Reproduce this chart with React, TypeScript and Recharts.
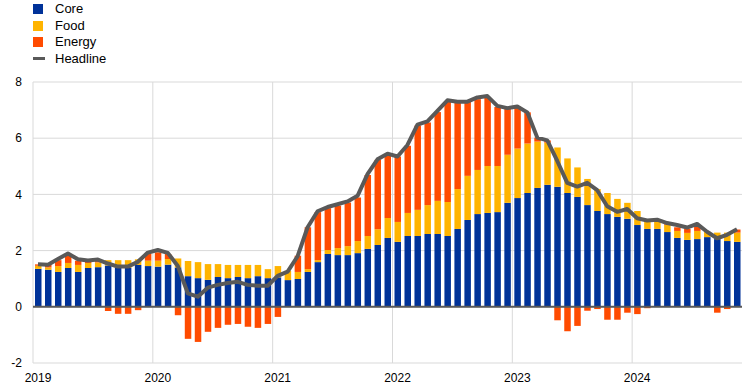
import React from 'react';
import {
  ComposedChart,
  Bar,
  Line,
  XAxis,
  YAxis,
  CartesianGrid,
  ReferenceLine,
  Legend,
} from 'recharts';

const MONTHS: string[] = [
  '2019-01', '2019-02', '2019-03', '2019-04', '2019-05', '2019-06', '2019-07', '2019-08', '2019-09', '2019-10', '2019-11', '2019-12',
  '2020-01', '2020-02', '2020-03', '2020-04', '2020-05', '2020-06', '2020-07', '2020-08', '2020-09', '2020-10', '2020-11', '2020-12',
  '2021-01', '2021-02', '2021-03', '2021-04', '2021-05', '2021-06', '2021-07', '2021-08', '2021-09', '2021-10', '2021-11', '2021-12',
  '2022-01', '2022-02', '2022-03', '2022-04', '2022-05', '2022-06', '2022-07', '2022-08', '2022-09', '2022-10', '2022-11', '2022-12',
  '2023-01', '2023-02', '2023-03', '2023-04', '2023-05', '2023-06', '2023-07', '2023-08', '2023-09', '2023-10', '2023-11', '2023-12',
  '2024-01', '2024-02', '2024-03', '2024-04', '2024-05', '2024-06', '2024-07', '2024-08', '2024-09', '2024-10', '2024-11',
];

const CORE: number[] = [
  1.35, 1.32, 1.24, 1.38, 1.24, 1.38, 1.41, 1.47, 1.38, 1.38, 1.49, 1.45,
  1.43, 1.50, 1.40, 1.09, 1.02, 0.96, 1.06, 1.02, 1.06, 1.02, 1.09, 1.02,
  1.05, 0.95, 0.99, 1.24, 1.59, 1.88, 1.84, 1.84, 1.91, 2.06, 2.20, 2.45,
  2.31, 2.52, 2.52, 2.59, 2.59, 2.52, 2.77, 3.09, 3.30, 3.34, 3.37, 3.70,
  3.87, 4.05, 4.23, 4.34, 4.27, 4.05, 3.91, 3.62, 3.41, 3.30, 3.20, 3.13,
  2.91, 2.77, 2.77, 2.66, 2.45, 2.38, 2.41, 2.48, 2.41, 2.34, 2.31,
];

const FOOD: number[] = [
  0.11, 0.08, 0.21, 0.18, 0.25, 0.18, 0.17, 0.19, 0.28, 0.28, 0.20, 0.19,
  0.21, 0.20, 0.32, 0.54, 0.57, 0.56, 0.46, 0.47, 0.43, 0.47, 0.40, 0.32,
  0.40, 0.33, 0.25, 0.10, 0.07, 0.14, 0.25, 0.32, 0.43, 0.46, 0.56, 0.71,
  0.71, 0.82, 0.93, 1.03, 1.18, 1.21, 1.42, 1.57, 1.57, 1.67, 1.64, 1.71,
  1.76, 1.76, 1.65, 1.50, 1.40, 1.23, 1.05, 0.93, 0.78, 0.75, 0.64, 0.57,
  0.50, 0.30, 0.30, 0.26, 0.25, 0.25, 0.29, 0.19, 0.23, 0.30, 0.33,
];

const ENERGY: number[] = [
  0.05, 0.10, 0.21, 0.28, 0.15, 0.08, 0.08, -0.15, -0.25, -0.25, -0.12, 0.28,
  0.30, 0.18, -0.30, -1.14, -1.25, -0.89, -0.75, -0.64, -0.61, -0.71, -0.75, -0.61,
  -0.36, 0.0, 0.58, 1.49, 1.71, 1.49, 1.51, 1.55, 1.55, 2.17, 2.47, 2.25,
  2.33, 2.39, 3.00, 2.94, 3.16, 3.57, 3.08, 2.64, 2.52, 2.45, 2.10, 1.63,
  1.50, 1.11, 0.14, 0.08, -0.48, -0.87, -0.68, -0.14, -0.08, -0.46, -0.46, -0.21,
  -0.26, -0.05, 0.03, 0.05, 0.13, 0.14, 0.15, 0.0, -0.21, -0.08, 0.11,
];

const HEADLINE: number[] = [
  1.51, 1.50, 1.70, 1.90, 1.69, 1.65, 1.68, 1.54, 1.43, 1.43, 1.60, 1.93,
  2.02, 1.92, 1.45, 0.48, 0.36, 0.68, 0.78, 0.85, 0.89, 0.78, 0.75, 0.75,
  1.10, 1.25, 1.80, 2.83, 3.40, 3.55, 3.65, 3.75, 3.95, 4.72, 5.25, 5.45,
  5.35, 5.76, 6.48, 6.60, 6.97, 7.35, 7.30, 7.30, 7.45, 7.50, 7.15, 7.07,
  7.13, 6.92, 6.02, 5.92, 5.19, 4.41, 4.28, 4.41, 4.15, 3.58, 3.38, 3.48,
  3.15, 3.07, 3.10, 2.98, 2.91, 2.82, 2.95, 2.67, 2.44, 2.56, 2.76,
];

const YEAR_TICKS: string[] = ['2019-01', '2020-01', '2021-01', '2022-01', '2023-01', '2024-01'];
const Y_TICKS: number[] = [-2, 0, 2, 4, 6, 8];

const CORE_COLOR = '#003299';
const FOOD_COLOR = '#FFB400';
const ENERGY_COLOR = '#FF4B00';
const HEADLINE_COLOR = '#595959';
const GRID_COLOR = '#d9d9d9';
const FONT = '"Liberation Sans", Arial, sans-serif';

const data = MONTHS.map((m, i) => ({
  month: m,
  core: CORE[i],
  food: FOOD[i],
  energy: ENERGY[i],
  headline: HEADLINE[i],
}));

const LEGEND_ITEMS = [
  { name: 'Core', color: CORE_COLOR, kind: 'square' },
  { name: 'Food', color: FOOD_COLOR, kind: 'square' },
  { name: 'Energy', color: ENERGY_COLOR, kind: 'square' },
  { name: 'Headline', color: HEADLINE_COLOR, kind: 'line' },
];

const renderLegend = () => (
  <div style={{ position: 'relative', width: 200, height: 70, fontFamily: FONT, fontSize: 13, color: '#000' }}>
    {LEGEND_ITEMS.map((it, i) => (
      <div
        key={it.name}
        style={{
          position: 'absolute',
          left: 0,
          top: 1.3 + i * 16.47,
          height: 16,
          display: 'flex',
          alignItems: 'center',
          whiteSpace: 'nowrap',
        }}
      >
        {it.kind === 'square' ? (
          <span style={{ display: 'inline-block', width: 10, height: 10, background: it.color }} />
        ) : (
          <span style={{ display: 'inline-block', width: 12, height: 3, background: it.color }} />
        )}
        <span style={{ marginLeft: it.kind === 'square' ? 12 : 10, lineHeight: '16px' }}>{it.name}</span>
      </div>
    ))}
  </div>
);

export default function App() {
  return (
    <div
      style={{
        position: 'absolute',
        left: 0,
        top: 0,
        width: 742,
        height: 388,
        overflow: 'hidden',
        background: '#fff',
      }}
    >
      <ComposedChart
        width={742}
        height={388}
        data={data}
        stackOffset="sign"
        margin={{ top: 12, right: 0, bottom: 0, left: 0 }}
        style={{ fontFamily: FONT }}
      >
        <Legend
          verticalAlign="top"
          layout="horizontal"
          content={renderLegend}
          wrapperStyle={{ top: 0, left: 33, width: 200, height: 70 }}
        />
        <CartesianGrid
          stroke={GRID_COLOR}
          strokeWidth={1}
          verticalCoordinatesGenerator={({ offset }: any) =>
            YEAR_TICKS.map((t) => offset.left + (MONTHS.indexOf(t) * offset.width) / MONTHS.length)
          }
        />
        <XAxis
          dataKey="month"
          ticks={YEAR_TICKS}
          interval={0}
          tickFormatter={(v: string) => v.slice(0, 4)}
          axisLine={false}
          tickLine={false}
          tickSize={0}
          tickMargin={10}
          height={25}
          tick={{ fontSize: 12, fill: '#000', fontFamily: FONT }}
        />
        <YAxis
          domain={[-2, 8]}
          ticks={Y_TICKS}
          interval={0}
          axisLine={false}
          tickLine={false}
          tickSize={0}
          tickMargin={11}
          width={33}
          tick={{ fontSize: 12, fill: '#000', fontFamily: FONT }}
        />
        <Bar dataKey="core" name="Core" stackId="a" fill={CORE_COLOR} barSize={6.5} isAnimationActive={false} />
        <Bar dataKey="food" name="Food" stackId="a" fill={FOOD_COLOR} barSize={6.5} isAnimationActive={false} />
        <Bar dataKey="energy" name="Energy" stackId="a" fill={ENERGY_COLOR} barSize={6.5} isAnimationActive={false} />
        <ReferenceLine y={0} stroke={HEADLINE_COLOR} strokeWidth={2} />
        <Line
          type="linear"
          dataKey="headline"
          name="Headline"
          stroke={HEADLINE_COLOR}
          strokeWidth={4}
          strokeLinejoin="round"
          dot={false}
          activeDot={false}
          isAnimationActive={false}
        />
      </ComposedChart>
    </div>
  );
}
